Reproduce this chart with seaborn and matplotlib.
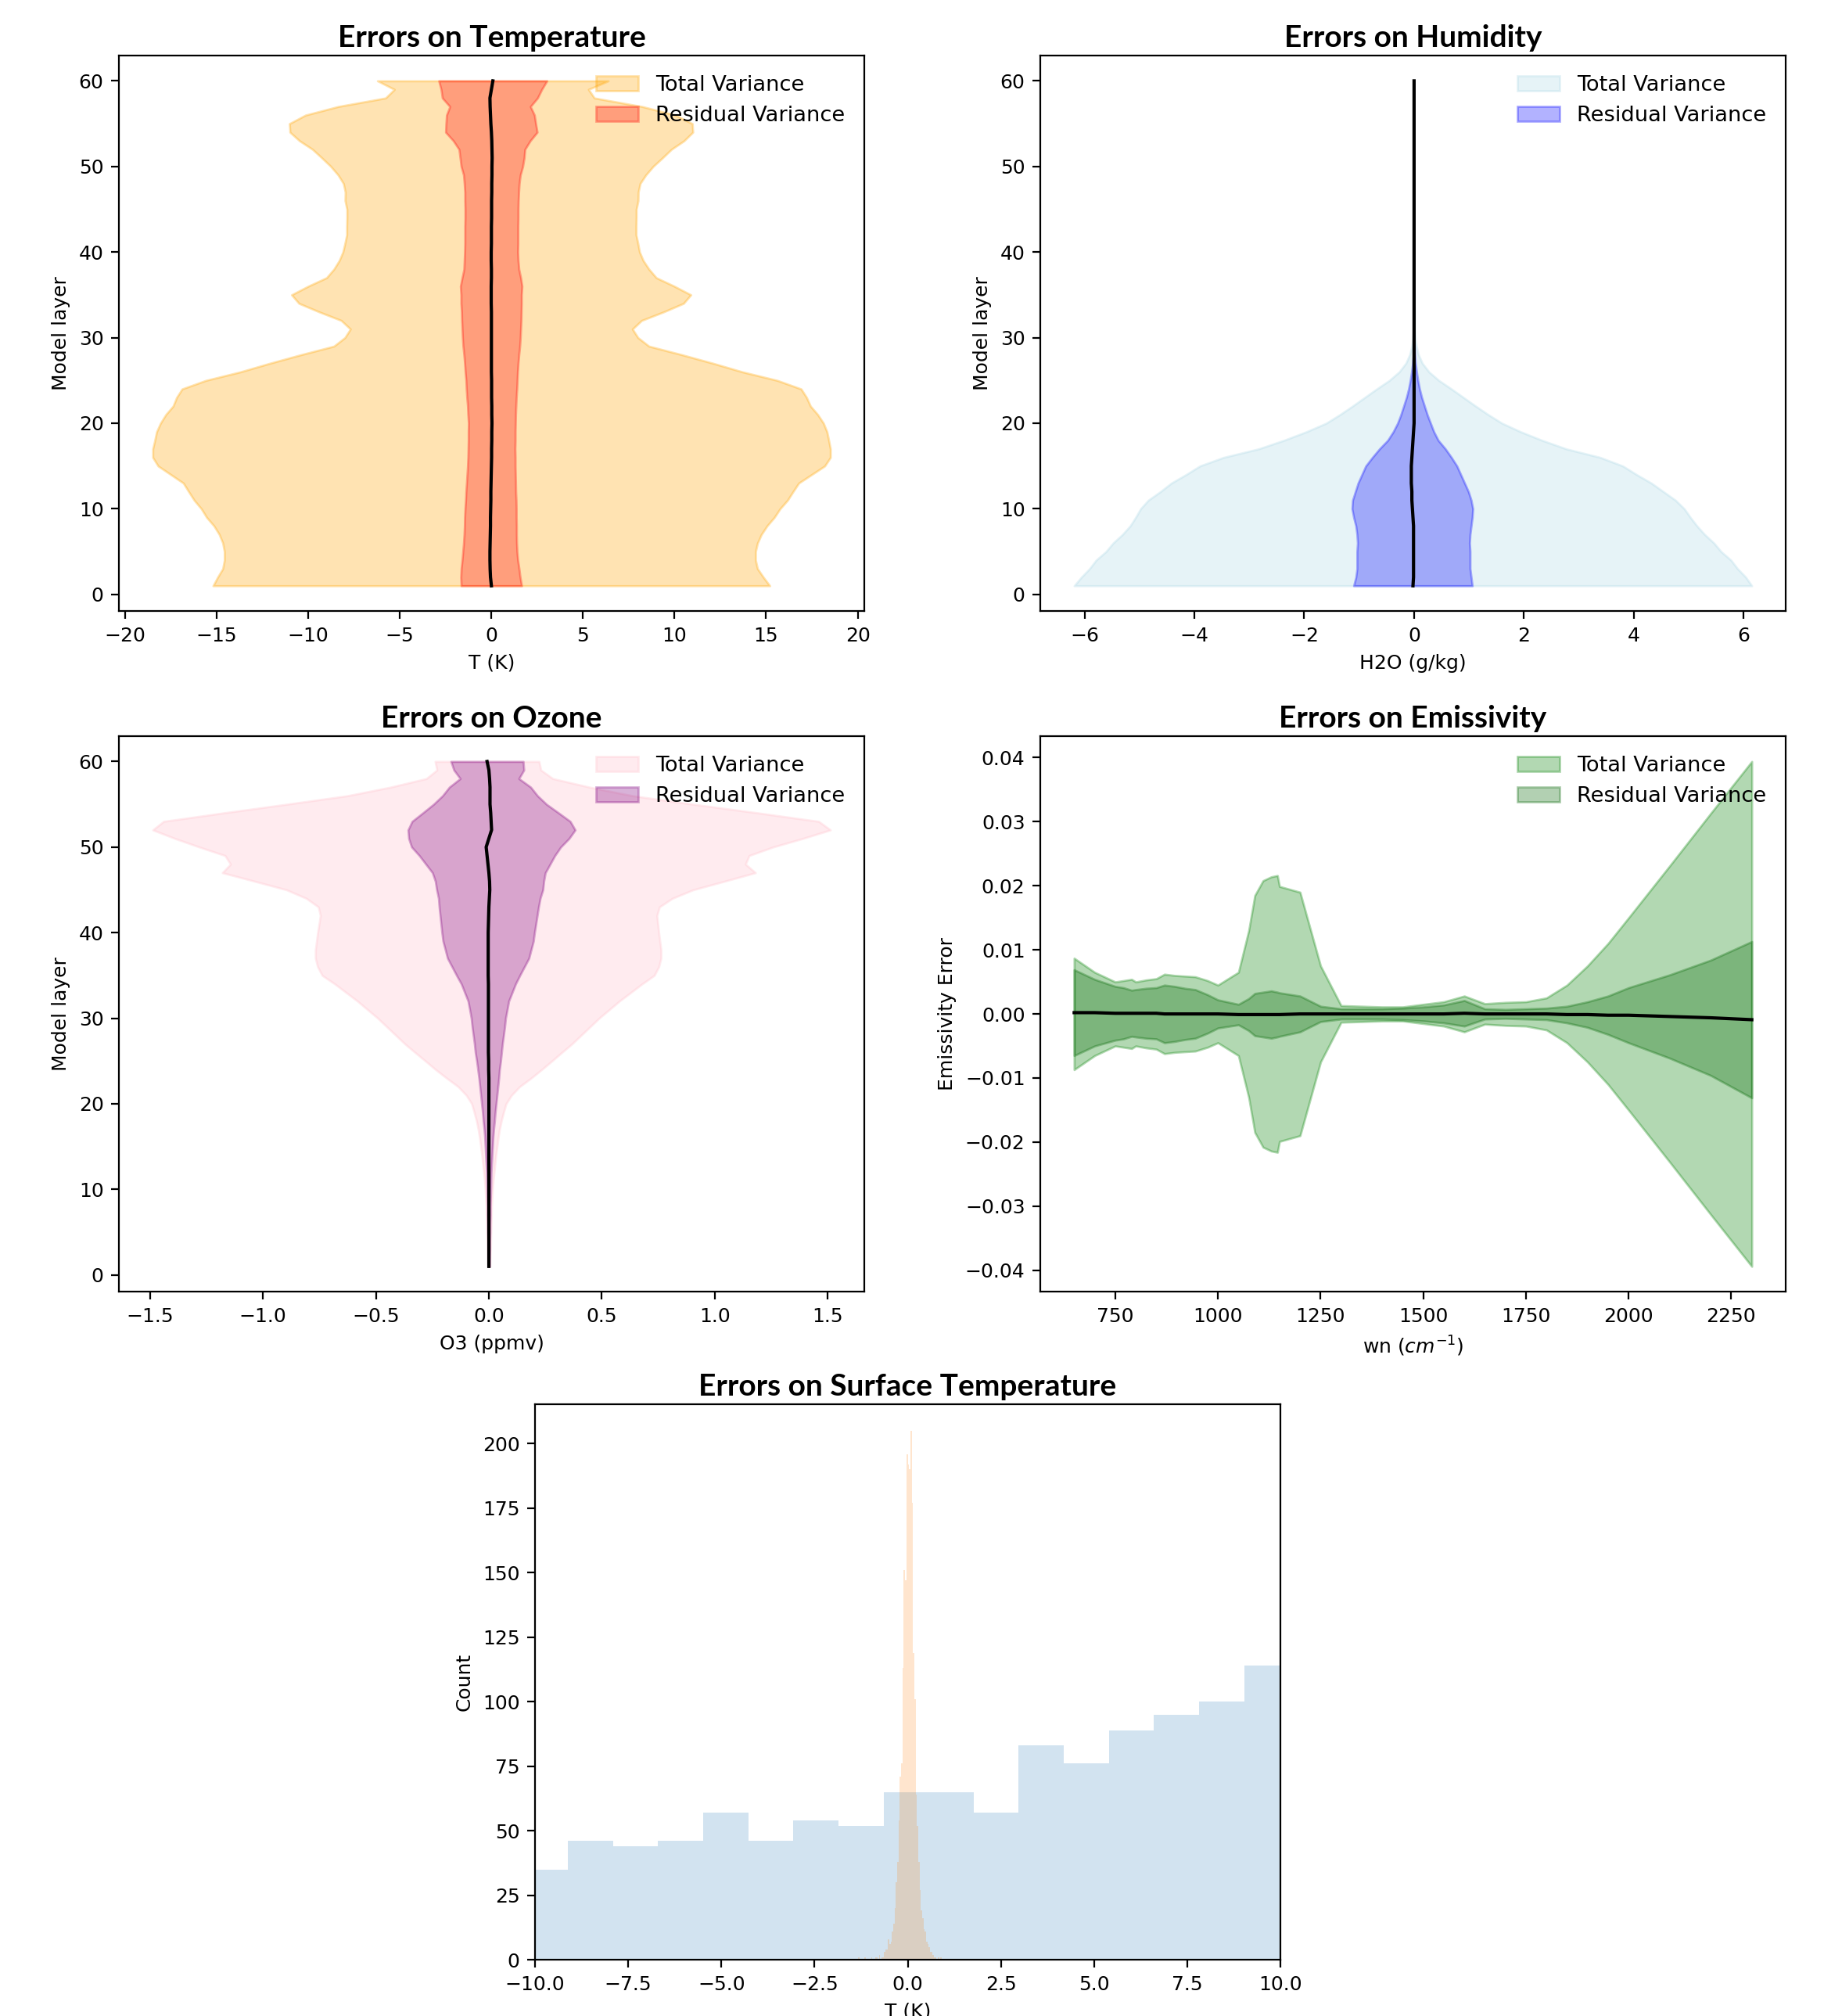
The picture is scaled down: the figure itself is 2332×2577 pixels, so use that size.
import numpy as np
import matplotlib
matplotlib.use("Agg")
import matplotlib.pyplot as plt
import seaborn as sns

plt.rcParams['font.family'] = ['DejaVu Sans']
plt.rcParams['font.size'] = 9
plt.rcParams['legend.fontsize'] = 9.8

layers = list(range(1, 61))

# temperature (K): mean error and std of total / residual error per layer
t_mean = [0.0, -0.05, -0.07, -0.08, -0.08, -0.07, -0.06, -0.05, -0.05, -0.04,
          -0.03, -0.03, -0.02, -0.01, 0.0, 0.01, 0.01, 0.02, 0.02, 0.03,
          0.02, 0.02, 0.01, 0.01, 0.01, 0.0, 0.0, 0.0, 0.0, 0.0,
          0.0, 0.0, 0.0, -0.01, -0.01, -0.01, 0.0, 0.0, -0.01, -0.01,
          0.0, 0.0, 0.0, 0.01, 0.01, 0.01, 0.02, 0.02, 0.03, 0.03,
          0.04, 0.03, 0.02, 0.0, -0.03, -0.05, -0.07, -0.08, 0.0, 0.08]
t_total = [15.2, 14.9, 14.6, 14.5, 14.5, 14.6, 14.8, 15.1, 15.5, 15.8,
           16.2, 16.5, 16.8, 17.5, 18.2, 18.5, 18.5, 18.4, 18.3, 18.1,
           17.8, 17.4, 17.2, 16.9, 15.6, 13.7, 12.1, 10.4, 8.6, 8.0,
           7.7, 8.2, 9.4, 10.5, 10.9, 10.0, 9.0, 8.6, 8.3, 8.1,
           8.0, 7.9, 7.9, 7.9, 7.9, 8.0, 8.0, 8.1, 8.4, 8.8,
           9.3, 9.8, 10.5, 11.0, 11.0, 10.1, 8.3, 5.7, 5.3, 6.3]
t_resid = [1.65, 1.62, 1.58, 1.52, 1.48, 1.45, 1.43, 1.42, 1.41, 1.40,
           1.38, 1.36, 1.34, 1.32, 1.30, 1.29, 1.28, 1.28, 1.28, 1.28,
           1.30, 1.32, 1.35, 1.38, 1.40, 1.43, 1.46, 1.50, 1.55, 1.58,
           1.60, 1.62, 1.63, 1.65, 1.65, 1.68, 1.60, 1.50, 1.47, 1.45,
           1.45, 1.45, 1.45, 1.45, 1.45, 1.46, 1.47, 1.50, 1.55, 1.68,
           1.75, 1.80, 2.10, 2.50, 2.45, 2.40, 2.20, 2.60, 2.75, 2.95]

# humidity (g/kg)
h_mean = [-0.02, -0.01, -0.01, -0.01, -0.01, -0.01, -0.01, -0.01, -0.02, -0.03,
          -0.04, -0.04, -0.05, -0.05, -0.05, -0.04, -0.03, -0.02, -0.01, 0.0,
          0.0, 0.0, 0.0, 0.0, 0.0, 0.0, 0.0, 0.0, 0.0, 0.0,
          0.0, 0.0, 0.0, 0.0, 0.0, 0.0, 0.0, 0.0, 0.0, 0.0,
          0.0, 0.0, 0.0, 0.0, 0.0, 0.0, 0.0, 0.0, 0.0, 0.0,
          0.0, 0.0, 0.0, 0.0, 0.0, 0.0, 0.0, 0.0, 0.0, 0.0]
h_total = [6.17, 6.05, 5.90, 5.78, 5.60, 5.47, 5.30, 5.16, 5.05, 4.95,
           4.80, 4.58, 4.37, 4.10, 3.85, 3.43, 2.80, 2.35, 1.95, 1.60,
           1.35, 1.12, 0.90, 0.68, 0.45, 0.27, 0.15, 0.08, 0.04, 0.02,
           0.01, 0.01, 0.01, 0.005, 0.005, 0.0, 0.0, 0.0, 0.0, 0.0,
           0.0, 0.0, 0.0, 0.0, 0.0, 0.0, 0.0, 0.0, 0.0, 0.0,
           0.0, 0.0, 0.0, 0.0, 0.0, 0.0, 0.0, 0.0, 0.0, 0.0]
h_resid = [1.08, 1.05, 1.03, 1.03, 1.03, 1.02, 1.03, 1.05, 1.08, 1.10,
           1.08, 1.03, 0.97, 0.90, 0.83, 0.72, 0.60, 0.46, 0.37, 0.30,
           0.24, 0.19, 0.14, 0.10, 0.07, 0.045, 0.025, 0.012, 0.005, 0.0,
           0.0, 0.0, 0.0, 0.0, 0.0, 0.0, 0.0, 0.0, 0.0, 0.0,
           0.0, 0.0, 0.0, 0.0, 0.0, 0.0, 0.0, 0.0, 0.0, 0.0,
           0.0, 0.0, 0.0, 0.0, 0.0, 0.0, 0.0, 0.0, 0.0, 0.0]

# ozone (ppmv)
o_mean = [0.0, 0.0, 0.0, 0.0, 0.0, 0.0, 0.0, 0.0, 0.0, 0.0,
          0.0, 0.0, 0.0, 0.0, 0.0, 0.0, 0.0, 0.0, 0.0, 0.0,
          0.0, 0.0, 0.0, -0.001, -0.001, -0.002, -0.002, -0.002, -0.002, -0.002,
          -0.002, -0.002, -0.002, -0.002, -0.003, -0.003, -0.003, -0.003, -0.003, -0.003,
          -0.002, -0.001, 0.0, 0.002, 0.004, 0.003, 0.0, -0.004, -0.008, -0.012,
          0.0, 0.012, 0.010, 0.008, 0.005, 0.005, 0.005, 0.003, 0.0, -0.008]
o_total = [0.005, 0.006, 0.007, 0.008, 0.009, 0.010, 0.011, 0.012, 0.014, 0.016,
           0.019, 0.023, 0.027, 0.031, 0.036, 0.041, 0.047, 0.055, 0.065, 0.076,
           0.100, 0.136, 0.187, 0.235, 0.280, 0.325, 0.370, 0.410, 0.450, 0.490,
           0.535, 0.580, 0.630, 0.680, 0.735, 0.755, 0.765, 0.765, 0.760, 0.755,
           0.750, 0.745, 0.755, 0.810, 0.900, 1.040, 1.180, 1.140, 1.160, 1.270,
           1.390, 1.500, 1.450, 1.180, 0.900, 0.630, 0.440, 0.280, 0.230, 0.230]
o_resid = [0.003, 0.003, 0.004, 0.004, 0.005, 0.005, 0.006, 0.006, 0.007, 0.008,
           0.009, 0.010, 0.012, 0.014, 0.016, 0.018, 0.021, 0.025, 0.028, 0.032,
           0.036, 0.040, 0.044, 0.048, 0.053, 0.058, 0.062, 0.067, 0.072, 0.076,
           0.083, 0.090, 0.105, 0.120, 0.140, 0.160, 0.180, 0.190, 0.200, 0.205,
           0.210, 0.215, 0.220, 0.225, 0.235, 0.240, 0.250, 0.275, 0.300, 0.330,
           0.355, 0.370, 0.350, 0.300, 0.250, 0.210, 0.180, 0.130, 0.155, 0.160]

# emissivity vs wavenumber
wn = [650, 700, 750, 770, 790, 800, 825, 850, 870, 895, 920, 945, 975, 1000,
      1050, 1075, 1090, 1110, 1130, 1145, 1150, 1200, 1250, 1300, 1350, 1400,
      1450, 1500, 1550, 1600, 1650, 1700, 1750, 1800, 1850, 1900, 1950, 2000,
      2100, 2200, 2300]
e_mean = [0.0002, 0.0002, 0.0001, 0.0001, 0.0001, 0.0001, 0.0001, 0.0001, 0.0, 0.0,
          0.0, 0.0, 0.0, 0.0, -0.0001, -0.0001, -0.0001, -0.0001, -0.0001, -0.0001,
          -0.0001, 0.0, 0.0, 0.0, 0.0, 0.0, 0.0, 0.0, 0.0, 0.0001,
          0.0, 0.0, 0.0, 0.0, -0.0001, -0.0001, -0.0002, -0.0002, -0.0004, -0.0006,
          -0.0009]
e_total = [0.0087, 0.0065, 0.0050, 0.0052, 0.0054, 0.0050, 0.0053, 0.0055, 0.0062, 0.0060,
           0.0059, 0.0058, 0.0052, 0.0045, 0.0065, 0.0130, 0.0185, 0.0208, 0.0214, 0.0216,
           0.0199, 0.0190, 0.0075, 0.0013, 0.0012, 0.0011, 0.0011, 0.0015, 0.0019, 0.0028,
           0.0016, 0.0018, 0.0019, 0.0025, 0.0045, 0.0075, 0.0110, 0.0150, 0.0231, 0.0313,
           0.0394]
e_resid = [0.0067, 0.0052, 0.0042, 0.0040, 0.0036, 0.0037, 0.0039, 0.0040, 0.0045, 0.0043,
           0.0040, 0.0038, 0.0030, 0.0022, 0.0016, 0.0025, 0.0033, 0.0035, 0.0037, 0.0035,
           0.0034, 0.0028, 0.0012, 0.0008, 0.0008, 0.0008, 0.0009, 0.0011, 0.0014, 0.0020,
           0.0008, 0.0007, 0.0008, 0.0009, 0.0013, 0.0020, 0.0030, 0.0043, 0.0065, 0.0090,
           0.0122]

# surface temperature error histograms
ts_total_edges = [-10.33, -9.12, -7.91, -6.70, -5.49, -4.28, -3.07, -1.86, -0.65,
                  0.56, 1.77, 2.98, 4.19, 5.40, 6.61, 7.82, 9.03, 10.24]
ts_total_counts = [35, 46, 44, 46, 57, 46, 54, 52, 65, 65, 57, 83, 76, 89, 95, 100, 114]
ts_resid_start = -1.54
ts_resid_width = 0.035
ts_resid_counts = [0, 0, 0, 0, 0, 0, 1, 0, 0, 0,
                   0, 1, 0, 0, 0, 0, 1, 0, 0, 1,
                   1, 0, 2, 0, 1, 1, 3, 4, 4, 8,
                   6, 7, 11, 14, 20, 30, 38, 54, 71, 76,
                   113, 151, 147, 196, 192, 190, 205, 177, 119, 101,
                   64, 52, 38, 27, 19, 16, 12, 11, 7, 6,
                   5, 3, 3, 2, 1, 1, 0, 1, 0, 1,
                   0, 0, 0]

fig = plt.figure(figsize=(11.66, 12.885), dpi=200)
W, H = 953 / 2332, 710 / 2577
ax_t = fig.add_axes([152 / 2332, 0.6969, W, H])
ax_h = fig.add_axes([1330 / 2332, 0.6969, W, H])
ax_o = fig.add_axes([152 / 2332, 0.3593, W, H])
ax_e = fig.add_axes([1330 / 2332, 0.3593, W, H])
ax_s = fig.add_axes([684 / 2332, 0.0279, W, H])

title_font = dict(family='Lato', fontweight='bold', fontsize=14)


def profile(ax, mean, total, resid, c_total, c_resid, xlabel, title):
    mean = np.array(mean)
    total = np.array(total)
    resid = np.array(resid)
    ax.fill_betweenx(layers, mean - total, mean + total, color=c_total, alpha=0.3,
                     label='Total Variance')
    ax.fill_betweenx(layers, mean - resid, mean + resid, color=c_resid, alpha=0.3,
                     label='Residual Variance')
    sns.lineplot(x=mean, y=layers, sort=False, estimator=None, orient='y',
                 color='black', ax=ax)
    ax.set_xlabel(xlabel)
    ax.set_ylabel('Model layer')
    ax.set_title(title, pad=4, **title_font)
    ax.legend(loc='upper right', frameon=False)


profile(ax_t, t_mean, t_total, t_resid, 'orange', 'red', 'T (K)', 'Errors on Temperature')
profile(ax_h, h_mean, h_total, h_resid, 'lightblue', 'blue', 'H2O (g/kg)', 'Errors on Humidity')
profile(ax_o, o_mean, o_total, o_resid, 'pink', 'purple', 'O3 (ppmv)', 'Errors on Ozone')

# emissivity
em = np.array(e_mean)
et = np.array(e_total)
er = np.array(e_resid)
ax_e.fill_between(wn, -et, et, color='green', alpha=0.3, label='Total Variance')
ax_e.fill_between(wn, em - er, em + er, color='darkgreen', alpha=0.3, label='Residual Variance')
sns.lineplot(x=wn, y=em, color='black', ax=ax_e)
ax_e.set_xlabel('wn ($cm^{-1}$)')
ax_e.set_ylabel('Emissivity Error')
ax_e.set_title('Errors on Emissivity', pad=4, **title_font)
ax_e.legend(loc='upper right', frameon=False)

# surface temperature
tot_centers = [(a + b) / 2 for a, b in zip(ts_total_edges[:-1], ts_total_edges[1:])]
sns.histplot(x=tot_centers, weights=ts_total_counts, bins=ts_total_edges,
             color='C0', alpha=0.2, linewidth=0, ax=ax_s)
res_edges = [ts_resid_start + ts_resid_width * k for k in range(len(ts_resid_counts) + 1)]
res_centers = [e + ts_resid_width / 2 for e in res_edges[:-1]]
sns.histplot(x=res_centers, weights=ts_resid_counts, bins=res_edges,
             color='C1', alpha=0.2, linewidth=0, ax=ax_s)
ax_s.set_xlim(-10, 10)
ax_s.set_xlabel('T (K)')
ax_s.set_ylabel('Count')
ax_s.set_title('Errors on Surface Temperature', pad=4, **title_font)

fig.savefig('out.png', dpi=200, facecolor='white')
